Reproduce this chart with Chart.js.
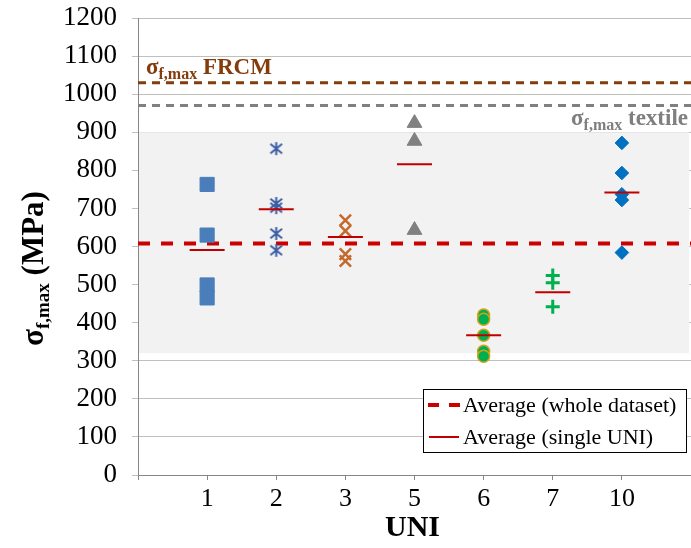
<!DOCTYPE html>
<html><head><meta charset="utf-8">
<script src="https://cdn.jsdelivr.net/npm/chart.js@4.4.1/dist/chart.umd.min.js"></script>
<style>html,body{margin:0;padding:0;background:#fff}canvas{display:block}</style>
</head><body><canvas id="c" width="691" height="548"></canvas>
<script>
// ---- data ----
const UNI_LABELS = ['1', '2', '3', '5', '6', '7', '10'];
const UNI1 = [763, 630, 499, 465];
const UNI2 = [857, 713, 702, 634, 590];
const UNI3 = [669, 641, 580, 562];
const UNI5 = [924, 877, 643];
const UNI6 = [420, 409, 367, 325, 312];
const UNI7 = [524, 505, 442];
const UNI10 = [872, 793, 737, 722, 584];
const UNI_AVERAGES = [591, 698, 625, 816, 367, 480, 742];
const OVERALL_AVERAGE = 608;
const FRCM_MAX = 1030;
const TEXTILE_MAX = 970;
const BAND_RANGE = [320, 900];
const LEGEND_LABELS = ['Average (whole dataset)', 'Average (single UNI)'];
const Y_MIN = 0, Y_MAX = 1200, Y_STEP = 100;
const X_MIN = 0, X_MAX = UNI_LABELS.length + 1;

const SERIF = "'Liberation Serif', 'Times New Roman', serif";

function pts(idx, arr) { return arr.map(v => ({ x: idx + 1, y: v })); }
function hline(v) { return [{ x: X_MIN, y: v }, { x: X_MAX, y: v }]; }

function starMarker(color, size, lw) {
  const s = size + 4;
  const c = document.createElement('canvas');
  c.width = s; c.height = s;
  const g = c.getContext('2d');
  g.strokeStyle = color; g.lineWidth = lw;
  const m = s / 2, h = size / 2, d = h * 0.9;
  g.beginPath();
  g.moveTo(m, m - h); g.lineTo(m, m + h);
  g.moveTo(m - d, m - d * 0.8); g.lineTo(m + d, m + d * 0.8);
  g.moveTo(m + d, m - d * 0.8); g.lineTo(m - d, m + d * 0.8);
  g.stroke();
  return c;
}

const seriesDefs = [
  { data: UNI1, style: 'rect', radius: 10, bg: '#4a7ebb', border: '#4a7ebb', bw: 1 },
  { data: UNI2, style: starMarker('#3c5ea6', 13, 2), radius: 8, bg: '#3c5ea6', border: '#3c5ea6', bw: 2 },
  { data: UNI3, style: 'crossRot', radius: 8, bg: '#c46a2c', border: '#c46a2c', bw: 2.5 },
  { data: UNI5, style: 'triangle', radius: 8.5, bg: '#808080', border: '#808080', bw: 1 },
  { data: UNI6, style: 'circle', radius: 6, bg: '#00b050', border: '#d4a017', bw: 1.5 },
  { data: UNI7, style: 'cross', radius: 7, bg: '#00b050', border: '#00b050', bw: 3 },
  { data: UNI10, style: 'rectRot', radius: 6.8, bg: '#0070c0', border: '#0070c0', bw: 1 }
];

const datasets = [];
seriesDefs.forEach((s, i) => {
  datasets.push({
    label: 'UNI ' + UNI_LABELS[i], data: pts(i, s.data), showLine: false,
    pointStyle: s.style, pointRadius: s.radius, pointHoverRadius: s.radius,
    backgroundColor: s.bg, borderColor: s.border, pointBorderWidth: s.bw, order: 3
  });
});
datasets.push({
  label: LEGEND_LABELS[1], data: UNI_AVERAGES.map((v, i) => ({ x: i + 1, y: v })), showLine: false,
  pointStyle: 'line', pointRadius: 17.5, borderColor: '#c00000', backgroundColor: '#c00000',
  pointBorderWidth: 2, order: 2
});
datasets.push({
  label: LEGEND_LABELS[0], data: hline(OVERALL_AVERAGE), showLine: true, pointRadius: 0,
  borderColor: '#cc0000', borderWidth: 4, borderDash: [12, 11], order: 4
});
datasets.push({
  label: 'FRCM', data: hline(FRCM_MAX), showLine: true, pointRadius: 0,
  borderColor: '#843c0c', borderWidth: 3, borderDash: [8, 6], order: 5
});
datasets.push({
  label: 'textile', data: hline(TEXTILE_MAX), showLine: true, pointRadius: 0,
  borderColor: '#808080', borderWidth: 3, borderDash: [8, 6], order: 5
});

function drawParts(ctx, parts, x, y, color) {
  ctx.fillStyle = color;
  ctx.textBaseline = 'alphabetic';
  ctx.textAlign = 'left';
  let cx = x;
  parts.forEach(p => {
    ctx.font = p.font;
    ctx.fillText(p.t, cx, y + (p.dy || 0));
    cx += ctx.measureText(p.t).width;
  });
}
function partsWidth(ctx, parts) {
  let w = 0;
  parts.forEach(p => { ctx.font = p.font; w += ctx.measureText(p.t).width; });
  return w;
}

const bandPlugin = {
  id: 'band',
  beforeDatasetsDraw(chart) {
    const { ctx, chartArea, scales } = chart;
    const yTop = scales.y.getPixelForValue(BAND_RANGE[1]);
    const yBot = scales.y.getPixelForValue(BAND_RANGE[0]);
    ctx.save();
    ctx.fillStyle = '#f2f2f2';
    ctx.fillRect(chartArea.left + 1, yTop, chartArea.right - chartArea.left - 3, yBot - yTop);
    ctx.restore();
  }
};

const textPlugin = {
  id: 'texts',
  afterDraw(chart) {
    const { ctx, chartArea, scales } = chart;
    ctx.save();
    // FRCM label
    const big = 'bold 23px ' + SERIF, sub = 'bold 16px ' + SERIF;
    const yF = scales.y.getPixelForValue(FRCM_MAX);
    drawParts(ctx, [{ t: 'σ', font: big }, { t: 'f,max', font: sub, dy: 5 }, { t: ' FRCM', font: big }],
      chartArea.left + 8, yF - 9, '#843c0c');
    // textile label
    const yT = scales.y.getPixelForValue(TEXTILE_MAX);
    const tParts = [{ t: 'σ', font: big }, { t: 'f,max', font: sub, dy: 5 }, { t: ' textile', font: big }];
    const tw = partsWidth(ctx, tParts);
    drawParts(ctx, tParts, chartArea.right - 3 - tw, yT + 19, '#7f7f7f');

    // y-axis title
    const yBig = 'bold 31px ' + SERIF, ySub = 'bold 19px ' + SERIF;
    const yParts = [{ t: 'σ', font: yBig }, { t: 'f,max', font: ySub, dy: 6 }, { t: ' (MPa)', font: yBig }];
    const yw = partsWidth(ctx, yParts);
    const cy = (chartArea.top + chartArea.bottom) / 2 + 22;
    ctx.save();
    ctx.translate(43, cy);
    ctx.rotate(-Math.PI / 2);
    drawParts(ctx, yParts, -yw / 2, 0, '#000');
    ctx.restore();

    // x-axis title
    ctx.font = 'bold 30px ' + SERIF;
    ctx.fillStyle = '#000';
    ctx.textAlign = 'center';
    ctx.textBaseline = 'alphabetic';
    ctx.fillText('UNI', (chartArea.left + chartArea.right) / 2 - 2, chartArea.bottom + 61);

    // legend
    const lw = 263, lh = 63;
    const lx = chartArea.right - 5 - lw, ly = chartArea.bottom - 23 - lh;
    ctx.fillStyle = '#fff';
    ctx.fillRect(lx, ly, lw, lh);
    ctx.strokeStyle = '#000';
    ctx.lineWidth = 1;
    ctx.strokeRect(lx + 0.5, ly + 0.5, lw, lh);
    const rows = [ly + 16, ly + 48];
    // dashed sample
    ctx.strokeStyle = '#cc0000';
    ctx.lineWidth = 4;
    ctx.setLineDash([11, 10]);
    ctx.beginPath(); ctx.moveTo(lx + 5, rows[0]); ctx.lineTo(lx + 37, rows[0]); ctx.stroke();
    ctx.setLineDash([]);
    ctx.lineWidth = 2;
    ctx.strokeStyle = '#c00000';
    ctx.beginPath(); ctx.moveTo(lx + 6, rows[1]); ctx.lineTo(lx + 36, rows[1]); ctx.stroke();
    ctx.font = '22px ' + SERIF;
    ctx.fillStyle = '#000';
    ctx.textAlign = 'left';
    ctx.textBaseline = 'middle';
    ctx.fillText(LEGEND_LABELS[0], lx + 40, rows[0] + 1);
    ctx.fillText(LEGEND_LABELS[1], lx + 40, rows[1] + 1);
    ctx.restore();
  }
};

new Chart(document.getElementById('c'), {
  type: 'scatter',
  data: { datasets },
  options: {
    responsive: false,
    animation: false,
    devicePixelRatio: 1,
    layout: { autoPadding: false, padding: { top: 18, right: 0, bottom: 0, left: 0 } },
    plugins: { legend: { display: false }, tooltip: { enabled: false }, title: { display: false } },
    scales: {
      x: {
        type: 'linear', min: X_MIN, max: X_MAX,
        afterFit(scale) { scale.height = 73; scale.paddingLeft = 0; scale.paddingRight = 0; },
        ticks: {
          stepSize: 1, autoSkip: false, maxRotation: 0, padding: 4,
          color: '#000', font: { family: SERIF, size: 26 },
          callback: (v) => (v >= 1 && v <= UNI_LABELS.length) ? UNI_LABELS[v - 1] : ''
        },
        grid: { drawOnChartArea: false, drawTicks: true, tickLength: 5, color: '#868686', lineWidth: 1 },
        border: { color: '#868686', width: 1 }
      },
      y: {
        min: Y_MIN, max: Y_MAX,
        afterFit(scale) { scale.width = 138; scale.paddingTop = 0; scale.paddingBottom = 0; },
        ticks: {
          stepSize: Y_STEP, padding: 15, color: '#000', font: { family: SERIF, size: 27 },
          callback: (v) => String(v)
        },
        grid: { color: '#bfbfbf', lineWidth: 1, tickLength: 6, drawTicks: true },
        border: { color: '#868686', width: 1 }
      }
    }
  },
  plugins: [bandPlugin, textPlugin]
});
</script>
</body></html>
